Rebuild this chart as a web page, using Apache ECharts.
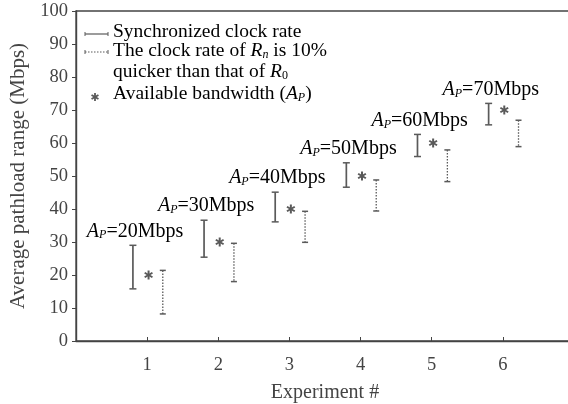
<!DOCTYPE html>
<html>
<head>
<meta charset="utf-8">
<script src="https://cdn.jsdelivr.net/npm/echarts@6/dist/echarts.min.js"></script>
<style>
  html, body { margin: 0; padding: 0; background: #fff; }
  #main { width: 568px; height: 404px; }
</style>
</head>
<body>
<div id="main"></div>
<script>
// experiment numbers on the x axis
const experiments = [1, 2, 3, 4, 5, 6]
// synchronized clock rate: pathload range (Mbps)
const syncLow = [15.8, 25.4, 36.1, 46.6, 55.9, 65.5]
const syncHigh = [29.0, 36.6, 45.1, 54.0, 62.6, 72.0]
// clock rate of Rn 10% quicker than R0
const fastLow = [8.2, 18.0, 29.9, 39.4, 48.3, 58.9]
const fastHigh = [21.4, 29.6, 39.3, 48.8, 57.9, 66.9]
// available bandwidth A_P
const availBw = [20, 30, 40, 50, 60, 70]

const ink = '#444'
const barInk = '#5a5a5a'
const serif = '"Liberation Serif", "DejaVu Serif", serif'

// error bar drawn with caps, solid or dotted
function errorBar (dx, dashed) {
  return function (params, api) {
    const x = api.value(0) + dx
    const top = api.coord([x, api.value(2)])
    const bot = api.coord([x, api.value(1)])
    const cap = dashed ? 3 : 3.5
    const style = { stroke: barInk, lineWidth: dashed ? 1.3 : 1.7, lineDash: dashed ? [1.5, 1.5] : null }
    const capStyle = { stroke: barInk, lineWidth: 1.5 }
    return {
      type: 'group',
      children: [
        { type: 'line', shape: { x1: top[0], y1: top[1], x2: bot[0], y2: bot[1] }, style: style },
        { type: 'line', shape: { x1: top[0] - cap, y1: top[1], x2: top[0] + cap, y2: top[1] }, style: capStyle },
        { type: 'line', shape: { x1: bot[0] - cap, y1: bot[1], x2: bot[0] + cap, y2: bot[1] }, style: capStyle }
      ]
    }
  }
}

// little six-armed asterisk
function starLines (cx, cy, r, w) {
  const out = []
  for (let k = 0; k < 3; k++) {
    const a = Math.PI / 2 + k * Math.PI / 3
    const dx = Math.cos(a) * r
    const dy = Math.sin(a) * r
    out.push({ type: 'line', shape: { x1: cx - dx, y1: cy - dy, x2: cx + dx, y2: cy + dy }, style: { stroke: barInk, lineWidth: w } })
  }
  return out
}

const chart = echarts.init(document.getElementById('main'))

// rich text pieces: normal, italic, subscript
function richSet (size) {
  const sub = Math.round(size * 0.62)
  return {
    i: { fontFamily: serif, fontStyle: 'italic', fontSize: size, color: ink },
    s: { fontFamily: serif, fontStyle: 'italic', fontSize: sub, color: ink, verticalAlign: 'bottom', padding: [7, 0, 0, 0] },
    s0: { fontFamily: serif, fontSize: sub, color: ink, verticalAlign: 'bottom', padding: [7, 0, 0, 0] },
    t: { fontFamily: serif, fontSize: size, color: ink }
  }
}
const labelRich = richSet(20)
const legendRich = richSet(19.5)

const legendX = 113
const option = {
  backgroundColor: '#fff',
  animation: false,
  grid: { left: 76, top: 11, right: -6, bottom: 63, outerBoundsMode: 'none', show: true, borderColor: ink, borderWidth: 1.3 },
  xAxis: {
    type: 'value',
    min: 0,
    max: 7,
    interval: 1,
    name: 'Experiment #',
    nameLocation: 'middle',
    nameGap: 42,
    nameTextStyle: { fontFamily: serif, fontSize: 20, color: ink },
    splitLine: { show: false },
    axisLine: { lineStyle: { color: ink, width: 1.4 } },
    axisTick: { inside: true, length: 4, lineStyle: { color: ink }, customValues: experiments },
    axisLabel: { fontFamily: serif, fontSize: 18.5, color: ink, margin: 15, customValues: experiments }
  },
  yAxis: {
    type: 'value',
    min: 0,
    max: 100,
    interval: 10,
    name: 'Average pathload range (Mbps)',
    nameLocation: 'middle',
    nameGap: 47,
    nameTextStyle: { fontFamily: serif, fontSize: 21, color: ink },
    splitLine: { show: false },
    axisLine: { show: true, lineStyle: { color: ink, width: 1.4 } },
    axisTick: { show: true, length: 4, lineStyle: { color: ink } },
    axisLabel: { fontFamily: serif, fontSize: 18.5, color: ink, margin: 8 }
  },
  series: [
    {
      type: 'custom',
      name: 'Synchronized clock rate',
      data: experiments.map((e, i) => [e, syncLow[i], syncHigh[i]]),
      renderItem: errorBar(-0.2, false)
    },
    {
      type: 'custom',
      name: 'The clock rate of Rn is 10% quicker than that of R0',
      data: experiments.map((e, i) => [e, fastLow[i], fastHigh[i]]),
      renderItem: errorBar(0.22, true)
    },
    {
      type: 'custom',
      name: 'Available bandwidth',
      data: experiments.map((e, i) => [e, availBw[i]]),
      renderItem: function (params, api) {
        const p = api.coord([api.value(0) + 0.02, api.value(1)])
        return { type: 'group', children: starLines(p[0], p[1], 4.5, 2) }
      }
    },
    {
      // A_P=..Mbps labels above the synchronized bars
      type: 'custom',
      data: experiments.map((e, i) => [e, syncHigh[i], availBw[i]]),
      renderItem: function (params, api) {
        const p = api.coord([api.value(0) - 0.17, api.value(1)])
        return {
          type: 'text',
          x: p[0],
          y: p[1] - 4,
          style: {
            text: '{i|A}{s|P}{t|=' + api.value(2) + 'Mbps}',
            rich: labelRich,
            align: 'center',
            verticalAlign: 'bottom'
          }
        }
      }
    }
  ],
  graphic: [
    // legend: solid error bar icon
    { type: 'line', shape: { x1: 85, y1: 34, x2: 108, y2: 34 }, style: { stroke: barInk, lineWidth: 1.2 } },
    { type: 'line', shape: { x1: 85, y1: 32, x2: 85, y2: 36 }, style: { stroke: barInk, lineWidth: 1 } },
    { type: 'line', shape: { x1: 108, y1: 32, x2: 108, y2: 36 }, style: { stroke: barInk, lineWidth: 1 } },
    { type: 'text', x: legendX, y: 32, style: { text: '{t|Synchronized clock rate}', rich: legendRich, verticalAlign: 'middle' } },
    // legend: dotted error bar icon
    { type: 'line', shape: { x1: 85, y1: 52, x2: 108, y2: 52 }, style: { stroke: barInk, lineWidth: 1.1, lineDash: [1.5, 1.5] } },
    { type: 'line', shape: { x1: 85, y1: 50, x2: 85, y2: 54 }, style: { stroke: barInk, lineWidth: 1 } },
    { type: 'line', shape: { x1: 108, y1: 50, x2: 108, y2: 54 }, style: { stroke: barInk, lineWidth: 1 } },
    { type: 'text', x: legendX, y: 51, style: { text: '{t|The clock rate of }{i|R}{s|n}{t| is 10%}', rich: legendRich, verticalAlign: 'middle' } },
    { type: 'text', x: legendX, y: 72, style: { text: '{t|quicker than that of }{i|R}{s0|0}', rich: legendRich, verticalAlign: 'middle' } },
    // legend: asterisk
    { type: 'group', children: starLines(95, 97, 4, 1.8) },
    { type: 'text', x: legendX, y: 94, style: { text: '{t|Available bandwidth (}{i|A}{s|P}{t|)}', rich: legendRich, verticalAlign: 'middle' } }
  ]
}

chart.setOption(option)
</script>
</body>
</html>
